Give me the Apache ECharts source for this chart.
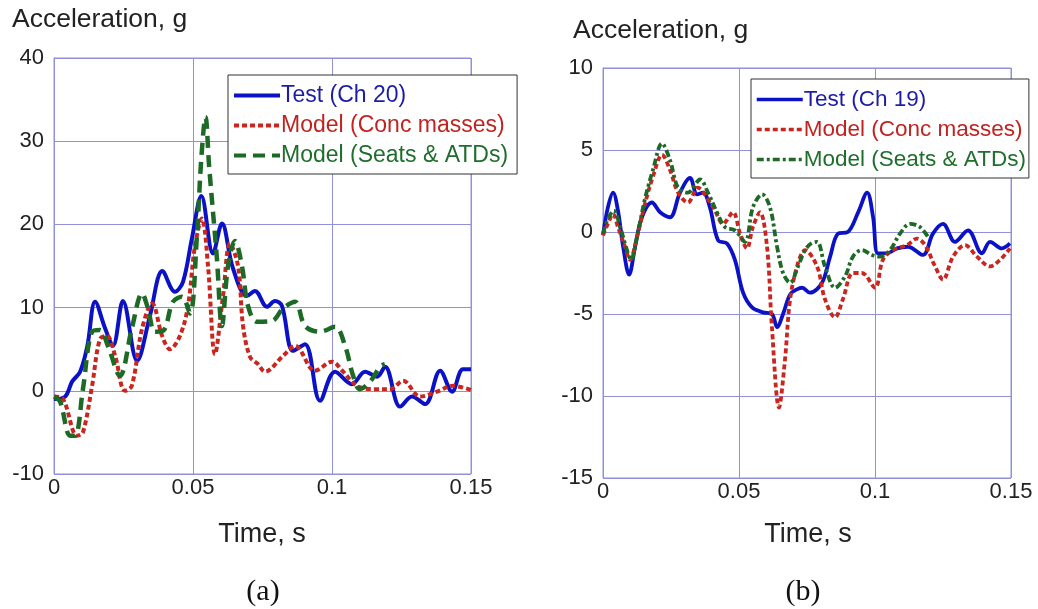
<!DOCTYPE html>
<html>
<head>
<meta charset="utf-8">
<script src="https://cdn.jsdelivr.net/npm/echarts@6/dist/echarts.min.js"></script>
<style>html,body{margin:0;padding:0;background:#fff}#c{width:1038px;height:609px}</style>
</head>
<body>
<div id="c"></div>
<script>
// ---- Data (time in s, acceleration in g) ----
const xTicks = [0, 0.05, 0.1, 0.15];
const yTicksA = [-10, 0, 10, 20, 30, 40];
const yTicksB = [-15, -10, -5, 0, 5, 10];

const namesA = ['Test (Ch 20)', 'Model (Conc masses)', 'Model (Seats & ATDs)'];
const namesB = ['Test (Ch 19)', 'Model (Conc masses)', 'Model (Seats & ATDs)'];

const testCh20 = [[0,-1],[0.004,-0.7],[0.0065,1.1],[0.0094,2.3],[0.012,5.4],[0.0148,10.7],[0.0184,7.5],[0.0212,5.4],[0.0248,10.8],[0.0299,3.6],[0.0345,9],[0.039,14.4],[0.0435,11.9],[0.0464,13.1],[0.0496,18.3],[0.053,23.4],[0.0572,16.5],[0.0604,20.1],[0.0644,14.7],[0.0694,11.4],[0.0723,12],[0.0766,10.1],[0.0795,10.8],[0.082,10.2],[0.086,4.8],[0.0903,5.6],[0.0957,-1.2],[0.1011,2.3],[0.1072,0.8],[0.1119,2.3],[0.1162,1.7],[0.1191,2.9],[0.1245,-1.9],[0.1288,-0.7],[0.1335,-1.6],[0.1389,2.4],[0.1432,-0.1],[0.1471,2.6],[0.15,2.6]];
const concA = [[0,-0.7],[0.003,-0.9],[0.0083,-5.4],[0.0104,-5.0],[0.0137,0.6],[0.0165,6.2],[0.019,6.6],[0.022,4.2],[0.0255,0],[0.028,0.6],[0.0317,7.5],[0.0353,10.5],[0.0389,6.6],[0.0417,5],[0.0453,6.6],[0.0482,10.2],[0.0507,17.4],[0.0532,20.7],[0.0554,15],[0.0579,4.4],[0.0608,11.4],[0.0633,17.7],[0.0662,15],[0.068,7.8],[0.0705,4.1],[0.0734,3.2],[0.0759,2.3],[0.0824,4.2],[0.0867,5.4],[0.0939,2.4],[0.1,3.5],[0.104,2.3],[0.109,0.6],[0.1148,0.2],[0.1209,0.2],[0.1256,1.2],[0.1317,-0.7],[0.1378,-0.1],[0.1435,0.6],[0.15,0.1]];
const seatsA = [[0,-0.7],[0.0022,-1.3],[0.0058,-5.4],[0.0076,-5.4],[0.0104,0.2],[0.0137,7.1],[0.0165,7.3],[0.0194,5.4],[0.0237,1.8],[0.028,7.5],[0.0317,11.7],[0.0338,9.9],[0.0363,7.1],[0.0392,7.2],[0.0428,10.7],[0.046,11.3],[0.0489,9.3],[0.0514,18.6],[0.053,28],[0.0545,32.9],[0.0558,27],[0.0586,15.9],[0.0604,7.8],[0.0626,15],[0.0651,18],[0.0676,15],[0.0698,10.2],[0.073,8.3],[0.0784,8.4],[0.0824,9.9],[0.0867,10.7],[0.0903,7.8],[0.0957,7.1],[0.1011,7.7],[0.1047,5.4],[0.1076,1.8],[0.11,0.2],[0.1137,1.1],[0.1173,2.9],[0.119,3.2]];

const testCh19 = [[0,-0.2],[0.0018,1.5],[0.0037,2.4],[0.0055,1.3],[0.0074,-0.9],[0.0096,-2.6],[0.0118,-0.9],[0.0143,0.9],[0.018,1.8],[0.021,1.2],[0.0246,0.9],[0.0283,2.4],[0.032,3.3],[0.0346,2.3],[0.0368,2.4],[0.0393,1.5],[0.0423,-0.5],[0.0456,-0.7],[0.0485,-1.7],[0.0515,-3.7],[0.0548,-4.6],[0.0588,-4.9],[0.0621,-5.0],[0.064,-5.8],[0.0662,-5.0],[0.0688,-3.8],[0.0713,-3.5],[0.0732,-3.4],[0.0761,-3.7],[0.0805,-3.1],[0.0835,-1.5],[0.0864,-0.1],[0.09,0],[0.0938,1.2],[0.0971,2.4],[0.0993,0.9],[0.1011,-1.3],[0.1044,-1.3],[0.1081,-1.0],[0.1121,-0.9],[0.1176,-1.4],[0.1213,-0.1],[0.125,0.5],[0.1294,-0.6],[0.1342,0.1],[0.1393,-1.3],[0.1423,-0.6],[0.1467,-1.0],[0.1496,-0.7]];
const concB = [[0,-0.2],[0.0018,0.5],[0.0037,1.1],[0.0055,0.3],[0.0081,-0.9],[0.0099,-1.7],[0.0125,-0.3],[0.0154,1.7],[0.0184,3.4],[0.0217,4.7],[0.0246,3.8],[0.0276,2.4],[0.0312,1.8],[0.0349,2.7],[0.0382,2.1],[0.0412,1.3],[0.0441,0.5],[0.0478,1.2],[0.0504,-0.1],[0.0529,-1.0],[0.0551,0.3],[0.0577,1.2],[0.0603,-0.9],[0.0621,-5.8],[0.0647,-10.7],[0.0669,-7.8],[0.0688,-4.1],[0.0717,-1.9],[0.0743,-1.1],[0.0787,-2.1],[0.0816,-4.1],[0.0853,-5.2],[0.0882,-4.1],[0.0919,-2.5],[0.0952,-2.5],[0.1,-3.4],[0.1029,-1.7],[0.1066,-1.1],[0.1118,-0.8],[0.1154,-0.4],[0.1184,-0.8],[0.1221,-2.1],[0.125,-2.9],[0.1287,-1.5],[0.1331,-0.8],[0.1375,-1.5],[0.1423,-2.1],[0.146,-1.7],[0.1496,-1.0]];
const seatsB = [[0,-0.1],[0.0018,0.8],[0.004,1.3],[0.0063,0.3],[0.0088,-1.1],[0.0103,-1.7],[0.0125,-0.3],[0.0154,2.0],[0.0184,3.8],[0.0217,5.4],[0.0246,4.4],[0.0276,2.7],[0.0312,2.4],[0.0357,3.2],[0.0386,2.4],[0.0419,1.2],[0.0449,0.3],[0.0485,0.1],[0.0522,-0.6],[0.0551,1.5],[0.0585,2.3],[0.0614,1.5],[0.064,-0.9],[0.0662,-2.5],[0.0688,-3.1],[0.0717,-2.1],[0.0743,-1.1],[0.0765,-0.7],[0.0787,-0.6],[0.0816,-2.1],[0.0853,-3.4],[0.089,-2.7],[0.0919,-1.5],[0.0952,-1.1],[0.0989,-1.4],[0.1018,-1.5],[0.1055,-1.1],[0.1092,-0.1],[0.1129,0.5],[0.1165,0.3],[0.1195,-0.3]];

// ---- Styles ----
const FONT = "'Liberation Sans', Arial, sans-serif";
const BLUE = '#0b12c6', RED = '#c8261f', GREEN = '#1d6a26';
const GRIDC = '#9090dc';
const dashRed = [5, 3], dashGreenA = [12, 7], dashGreenB = [7, 3, 3, 3];

function xAxisDef(gi) {
  return {
    type: 'value', gridIndex: gi, min: xTicks[0], max: xTicks[xTicks.length - 1], interval: 0.05,
    axisLine: { show: true, lineStyle: { color: GRIDC, width: 1 } },
    axisTick: { show: false },
    splitLine: { show: true, lineStyle: { color: GRIDC, width: 1 } },
    axisLabel: { color: '#222', fontSize: 22, fontFamily: FONT, margin: 3, showMinLabel: true, showMaxLabel: true,
      formatter: v => String(+v.toFixed(2)) }
  };
}
function yAxisDef(gi, ticks, interval) {
  return {
    type: 'value', gridIndex: gi, min: ticks[0], max: ticks[ticks.length - 1], interval: interval,
    axisLine: { show: true, lineStyle: { color: GRIDC, width: 1 } },
    axisTick: { show: false },
    splitLine: { show: true, lineStyle: { color: GRIDC, width: 1 } },
    axisLabel: { color: '#222', fontSize: 22, fontFamily: FONT, margin: 10, showMinLabel: true, showMaxLabel: true }
  };
}
function lineSeries(name, data, gi, color, type, width) {
  return {
    type: 'line', name: name, data: data, xAxisIndex: gi, yAxisIndex: gi,
    symbol: 'none', smooth: 0.35, clip: true,
    lineStyle: { color: color, width: width, type: type },
    itemStyle: { color: color }
  };
}
function legendDef(left, top, names, colors, styles, fs, padRight) {
  return {
    orient: 'vertical', left: left, top: top,
    backgroundColor: '#fff', borderColor: '#333', borderWidth: 1,
    padding: [8, padRight, 6, 4], itemGap: 5, itemWidth: 46, itemHeight: 14,
    itemStyle: { opacity: 0, borderWidth: 0 },
    textStyle: { fontSize: fs, fontFamily: FONT, lineHeight: 25, padding: [0, 0, 0, -4] },
    selectedMode: false,
    data: names.map((n, i) => ({ name: n, textStyle: { color: colors[i] }, lineStyle: styles[i], itemStyle: { opacity: 0, borderWidth: 0 } }))
  };
}

const chart = echarts.init(document.getElementById('c'), null, { renderer: 'canvas' });
chart.setOption({
  backgroundColor: '#fff',
  animation: false,
  grid: [
    { left: 54, top: 58, width: 417, height: 416, show: true, borderColor: GRIDC, borderWidth: 1, backgroundColor: 'transparent' },
    { left: 603, top: 68, width: 408, height: 410, show: true, borderColor: GRIDC, borderWidth: 1, backgroundColor: 'transparent' }
  ],
  xAxis: [xAxisDef(0), xAxisDef(1)],
  yAxis: [yAxisDef(0, yTicksA, 10), yAxisDef(1, yTicksB, 5)],
  legend: [
    legendDef(228, 75, namesA, ['#1c1ca6', '#c02420', '#1f6e2c'],
      [{ type: 'solid', color: BLUE, width: 4 }, { type: dashRed, color: RED, width: 4 }, { type: dashGreenA, color: GREEN, width: 4 }], 23, 9),
    legendDef(751, 79, namesB, ['#1c1ca6', '#c02420', '#1f6e2c'],
      [{ type: 'solid', color: BLUE, width: 3.5 }, { type: dashRed, color: RED, width: 3.5 }, { type: dashGreenB, color: GREEN, width: 3.5 }], 22.5, 3)
  ],
  series: [
    lineSeries(namesA[0], testCh20, 0, BLUE, 'solid', 4),
    lineSeries(namesA[1], concA, 0, RED, dashRed, 4),
    lineSeries(namesA[2], seatsA, 0, GREEN, dashGreenA, 4.5),
    lineSeries(namesB[0], testCh19, 1, BLUE, 'solid', 3.8),
    lineSeries(namesB[1], concB, 1, RED, dashRed, 3.8),
    lineSeries(namesB[2], seatsB, 1, GREEN, dashGreenB, 3.8)
  ],
  graphic: [
    { type: 'text', left: 12, top: 6, style: { text: 'Acceleration, g', fontSize: 26.5, fontFamily: FONT, fill: '#222' } },
    { type: 'text', left: 573, top: 17, style: { text: 'Acceleration, g', fontSize: 26.5, fontFamily: FONT, fill: '#222' } },
    { type: 'text', x: 262, y: 535, style: { text: 'Time, s', fontSize: 27, fontFamily: FONT, fill: '#222', align: 'center', verticalAlign: 'middle' } },
    { type: 'text', x: 808, y: 535, style: { text: 'Time, s', fontSize: 27, fontFamily: FONT, fill: '#222', align: 'center', verticalAlign: 'middle' } },
    { type: 'text', x: 263, y: 592, style: { text: '(a)', fontSize: 30, fontFamily: "'Liberation Serif', 'Times New Roman', serif", fill: '#111', align: 'center', verticalAlign: 'middle' } },
    { type: 'text', x: 803, y: 592, style: { text: '(b)', fontSize: 30, fontFamily: "'Liberation Serif', 'Times New Roman', serif", fill: '#111', align: 'center', verticalAlign: 'middle' } }
  ]
});
</script>
</body>
</html>
